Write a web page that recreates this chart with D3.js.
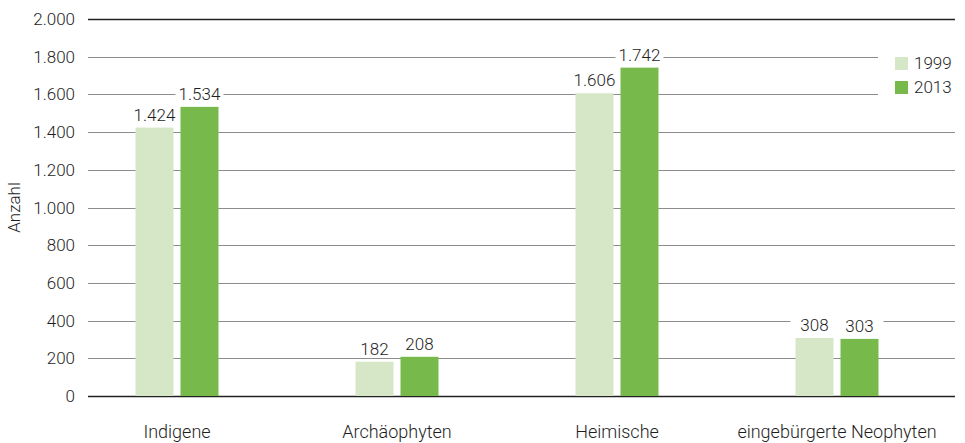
<!DOCTYPE html>
<html>
<head>
<meta charset="utf-8">
<script src="https://cdn.jsdelivr.net/npm/d3@7"></script>
<style>
  body { margin: 0; background: #fff; }
  svg text { font-family: Roboto, "Open Sans", sans-serif; font-weight: 300; fill: #1e1e1e; }
</style>
</head>
<body>
<div id="main"></div>
<script>
const categories = ["Indigene", "Archäophyten", "Heimische", "eingebürgerte Neophyten"];
const years = ["1999", "2013"];
const values1999 = [1424, 182, 1606, 308];
const values2013 = [1534, 208, 1742, 303];
const yTicks = [0, 200, 400, 600, 800, 1000, 1200, 1400, 1600, 1800, 2000];

const ctx = {
    w: 965,
    h: 443,
    colors: ["#d6e7c7", "#78b94c"],
    barW: 38,
    barGap: 7,
};

const fmt = d3.formatLocale({ decimal: ",", thousands: ".", grouping: [3], currency: ["", "€"] }).format(",");

function createViz() {
    let svg = d3.select("#main").append("svg")
        .attr("width", ctx.w)
        .attr("height", ctx.h);

    let x = d3.scaleBand().domain(categories).range([67, 947]);
    let y = d3.scaleLinear().domain([0, 2000]).range([396, 19]);

    // grid lines, the ones under the legend stop short
    svg.append("g").selectAll("line")
        .data(yTicks)
        .enter()
        .append("line")
        .attr("x1", 88)
        .attr("x2", (d) => (d == 1800 || d == 1600) ? 878 : 955)
        .attr("y1", (d) => Math.round(y(d)) + 0.5)
        .attr("y2", (d) => Math.round(y(d)) + 0.5)
        .attr("stroke", (d) => (d == 0 || d == 2000) ? "#222" : "#8c8c8c")
        .attr("stroke-width", (d) => (d == 0 || d == 2000) ? 1.3 : 1);

    svg.append("g").selectAll("text")
        .data(yTicks)
        .enter()
        .append("text")
        .attr("x", 75)
        .attr("y", (d) => y(d) + 6)
        .attr("text-anchor", "end")
        .style("font-size", "17px")
        .text((d) => fmt(d));

    svg.append("text")
        .attr("transform", `translate(20,${y(1000)}) rotate(-90)`)
        .attr("text-anchor", "middle")
        .style("font-size", "17px")
        .text("Anzahl");

    let series = [values1999, values2013];
    series.forEach((vals, s) => {
        let off = s == 0 ? -ctx.barGap / 2 - ctx.barW : ctx.barGap / 2;
        let g = svg.append("g");
        g.selectAll("rect")
            .data(vals)
            .enter()
            .append("rect")
            .attr("x", (d, i) => x(categories[i]) + x.bandwidth() / 2 + off)
            .attr("y", (d) => y(d))
            .attr("width", ctx.barW)
            .attr("height", (d) => y(0) - y(d))
            .attr("fill", ctx.colors[s]);

        let lab = g.selectAll(".lab")
            .data(vals)
            .enter()
            .append("g")
            .attr("class", "lab")
            .attr("transform", (d, i) => `translate(${x(categories[i]) + x.bandwidth() / 2 + off + ctx.barW / 2},${y(d) - 7})`);
        lab.append("rect")
            .attr("x", -24)
            .attr("y", -16)
            .attr("width", 48)
            .attr("height", 19)
            .attr("fill", "#fff");
        lab.append("text")
            .attr("text-anchor", "middle")
            .style("font-size", "17px")
            .text((d) => fmt(d));
    });

    svg.append("g").selectAll("text")
        .data(categories)
        .enter()
        .append("text")
        .attr("x", (d) => x(d) + x.bandwidth() / 2)
        .attr("y", 438)
        .attr("text-anchor", "middle")
        .style("font-size", "18px")
        .text((d) => d);

    // legend
    let leg = svg.append("g").selectAll("g")
        .data(years)
        .enter()
        .append("g")
        .attr("transform", (d, i) => `translate(895,${57 + i * 24})`);
    leg.append("rect")
        .attr("width", 13)
        .attr("height", 13)
        .attr("fill", (d, i) => ctx.colors[i]);
    leg.append("text")
        .attr("x", 19)
        .attr("y", 12)
        .style("font-size", "17px")
        .text((d) => d);
}

createViz();
</script>
</body>
</html>
